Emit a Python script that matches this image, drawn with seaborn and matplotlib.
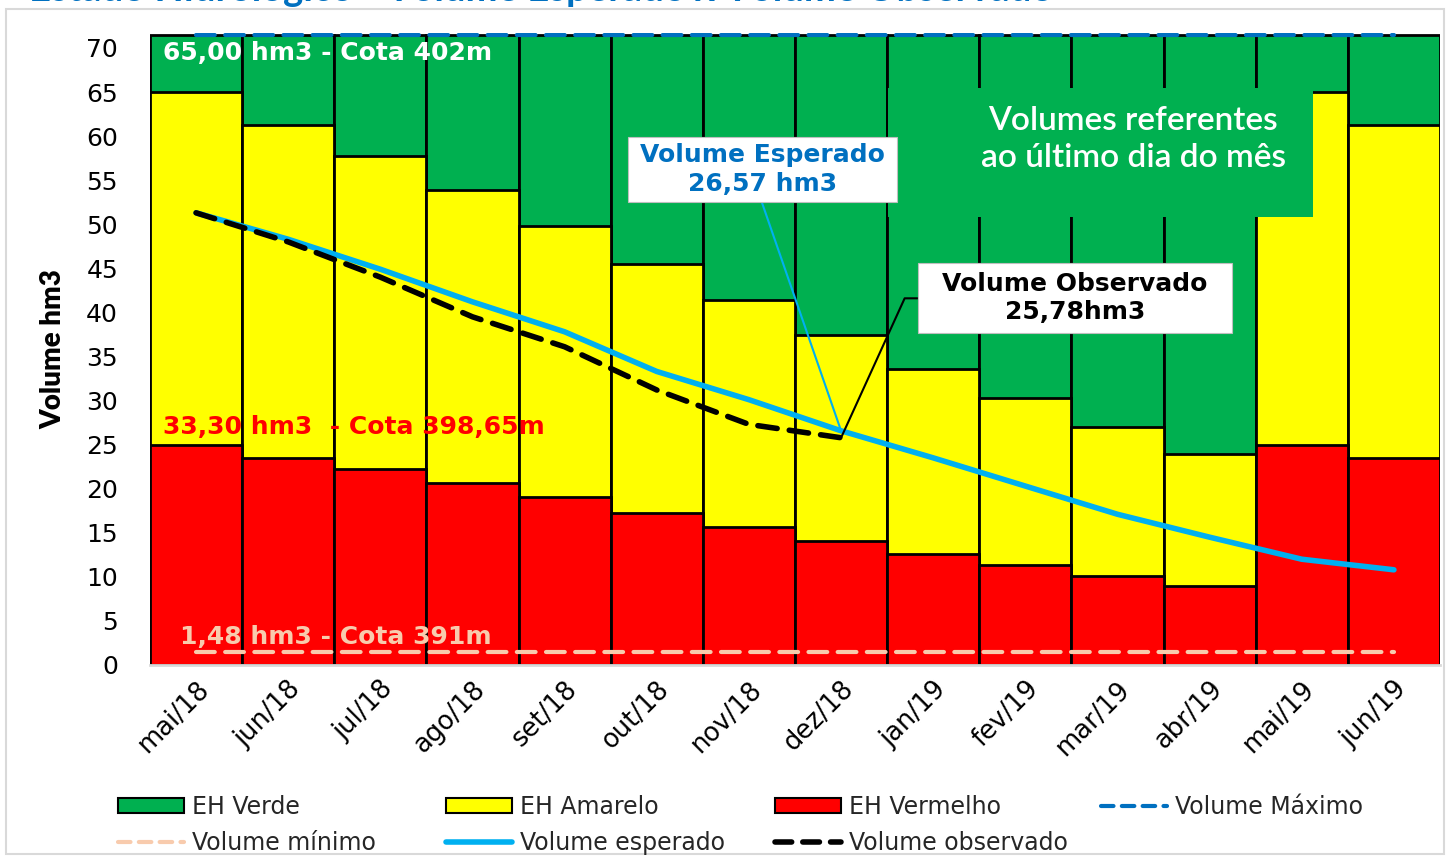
import numpy as np
import pandas as pd
import matplotlib
matplotlib.use("Agg")
import matplotlib.pyplot as plt
import seaborn as sns
from matplotlib.lines import Line2D
from matplotlib.patches import Patch, Rectangle

# ---------------- data ----------------
months = ["mai/18", "jun/18", "jul/18", "ago/18", "set/18", "out/18", "nov/18",
          "dez/18", "jan/19", "fev/19", "mar/19", "abr/19", "mai/19", "jun/19"]
red_top = [25.0, 23.5, 22.2, 20.6, 19.1, 17.2, 15.7, 14.1, 12.6, 11.3, 10.1, 9.0, 25.0, 23.5]
yellow_top = [65.0, 61.3, 57.7, 53.9, 49.8, 45.5, 41.4, 37.4, 33.6, 30.3, 27.0, 23.9, 65.0, 61.3]
green_top = [71.5] * 14
vol_max = [71.5] * 14
vol_min = [1.48] * 14
expected = [51.3, 48.3, 44.9, 41.2, 37.8, 33.3, 30.1, 26.57, 23.5, 20.3, 17.1, 14.5, 12.0, 10.8]
observed = [51.3, 48.0, 44.0, 39.5, 36.1, 31.2, 27.3, 25.78]
yticks = list(range(0, 75, 5))

C_GREEN = "#00B050"
C_YELLOW = "#FFFF00"
C_RED = "#FF0000"
C_MAX = "#0070C0"
C_MIN = "#F8CBAD"
C_EXP = "#00B0F0"

sns.set_theme(style="white")
plt.rcParams["font.family"] = ["DejaVu Sans"]

fig = plt.figure(figsize=(14.47, 8.56), dpi=100)
fig.patches.append(Rectangle((0.004, 0.002), 0.994, 0.988, transform=fig.transFigure,
                             fill=False, edgecolor="#D9D9D9", linewidth=1.5))
ax = fig.add_axes([150 / 1447, 1 - 665 / 856, 1290 / 1447, 632 / 856])

df = pd.DataFrame({"mes": months, "verde": green_top, "amarelo": yellow_top,
                   "vermelho": red_top})
for col, colr in [("verde", C_GREEN), ("amarelo", C_YELLOW), ("vermelho", C_RED)]:
    sns.barplot(data=df, x="mes", y=col, color=colr, saturation=1, width=1.0,
                edgecolor="black", linewidth=2, ax=ax, zorder=2)

sns.lineplot(x=months, y=vol_max, sort=False, ax=ax, color=C_MAX, linewidth=3,
             linestyle=(0, (4.5, 2.5)), dash_capstyle="round", zorder=5)
sns.lineplot(x=months, y=vol_min, sort=False, ax=ax, color=C_MIN, linewidth=3,
             linestyle=(0, (4.5, 2.5)), dash_capstyle="round", zorder=5)
sns.lineplot(x=months, y=expected, sort=False, ax=ax, color=C_EXP, linewidth=4,
             solid_capstyle="round", zorder=6)
sns.lineplot(x=months[:len(observed)], y=observed, sort=False, ax=ax, color="black",
             linewidth=4, linestyle=(0, (3.5, 2.2)), dash_capstyle="round", zorder=7)

ax.set_xlim(-0.5, len(months) - 0.5)
ax.set_ylim(0, 71.7)
ax.set_yticks(yticks)
ax.tick_params(axis="y", labelsize=18, length=0, pad=23, colors="black")
ax.tick_params(axis="x", labelsize=18.5, length=0, pad=8, colors="black")
for lab in ax.get_xticklabels():
    lab.set_rotation(45)
    lab.set_ha("right")
    lab.set_rotation_mode("anchor")
ax.set_xlabel("")
ax.set_ylabel("Volume hm3", fontsize=20, fontweight="heavy", color="black",
              family=["Lato", "DejaVu Sans"], labelpad=14)
for s in ["top", "right", "left"]:
    ax.spines[s].set_visible(False)
ax.spines["bottom"].set_color("#D9D9D9")
ax.spines["bottom"].set_linewidth(2)
ax.grid(False)

# ---------------- annotations ----------------
ax.text(-0.36, 69.4, "65,00 hm3 - Cota 402m", color="white", fontsize=18,
        fontweight="bold", va="center", ha="left", zorder=8)
ax.text(-0.36, 27.0, "33,30 hm3  - Cota 398,65m", color=C_RED, fontsize=18,
        fontweight="bold", va="center", ha="left", zorder=8)
ax.text(-0.17, 3.2, "1,48 hm3 - Cota 391m", color=C_MIN, fontsize=18,
        fontweight="bold", va="center", ha="left", zorder=8)

# green info box
ax.add_patch(Rectangle((7.51, 50.8), 4.61, 14.7, facecolor=C_GREEN, edgecolor="none",
                       zorder=9))
ax.text(10.17, 59.6, "Volumes referentes\nao último dia do mês", color="white",
        fontsize=24, fontweight="semibold", family=["Lato", "DejaVu Sans"],
        ha="center", va="center", linespacing=1.3, zorder=10)

# expected box + leader
ax.plot([6.14, 7.0], [52.5, 26.57], color=C_EXP, linewidth=1.5, zorder=8)
ax.add_patch(Rectangle((4.69, 52.5), 2.92, 7.4, facecolor="white", edgecolor="#BFBFBF",
                       linewidth=0.8, zorder=9))
ax.text(6.15, 56.2, "Volume Esperado\n26,57 hm3", color=C_MAX, fontsize=18,
        fontweight="bold", ha="center", va="center", linespacing=1.25, zorder=10)

# observed box + leader
ax.plot([7.0, 7.69, 7.83], [25.78, 41.6, 41.6], color="black", linewidth=1.5, zorder=8)
ax.add_patch(Rectangle((7.83, 37.7), 3.41, 7.9, facecolor="white", edgecolor="#BFBFBF",
                       linewidth=0.8, zorder=9))
ax.text(9.54, 41.65, "Volume Observado\n25,78hm3", color="black", fontsize=18,
        fontweight="bold", ha="center", va="center", linespacing=1.25, zorder=10)

# title, cut off at the very top as in the reference
fig.text(0.02, 1.012, "Estado Hidrológico - Volume Esperado x Volume Observado",
         color=C_MAX, fontsize=27.5, fontweight="bold", family=["Lato", "DejaVu Sans"],
         ha="left", va="center")

# ---------------- legend (4 columns, 2 rows) ----------------
h_verde = Patch(facecolor=C_GREEN, edgecolor="black", linewidth=1.5, label="EH Verde")
h_amar = Patch(facecolor=C_YELLOW, edgecolor="black", linewidth=1.5, label="EH Amarelo")
h_verm = Patch(facecolor=C_RED, edgecolor="black", linewidth=1.5, label="EH Vermelho")
h_max = Line2D([], [], color=C_MAX, linewidth=3, linestyle=(0, (3, 2)),
               dash_capstyle="round", label="Volume Máximo")
h_min = Line2D([], [], color=C_MIN, linewidth=3, linestyle=(0, (3, 2)),
               dash_capstyle="round", label="Volume mínimo")
h_exp = Line2D([], [], color=C_EXP, linewidth=4, solid_capstyle="round",
               label="Volume esperado")
h_obs = Line2D([], [], color="black", linewidth=4, linestyle=(0, (3, 2)),
               dash_capstyle="round", label="Volume observado")
columns = [([h_verde, h_min], 118), ([h_amar, h_exp], 446), ([h_verm, h_obs], 775),
           ([h_max], 1101)]
for hs, xpx in columns:
    fig.legend(handles=hs, loc="upper left", bbox_to_anchor=(xpx / 1447, 1 - 795 / 856),
               frameon=False, fontsize=17, handlelength=2.8, handleheight=0.6,
               handletextpad=0.35, labelspacing=0.5, borderaxespad=0, borderpad=0)

fig.savefig("out.png", dpi=100)
